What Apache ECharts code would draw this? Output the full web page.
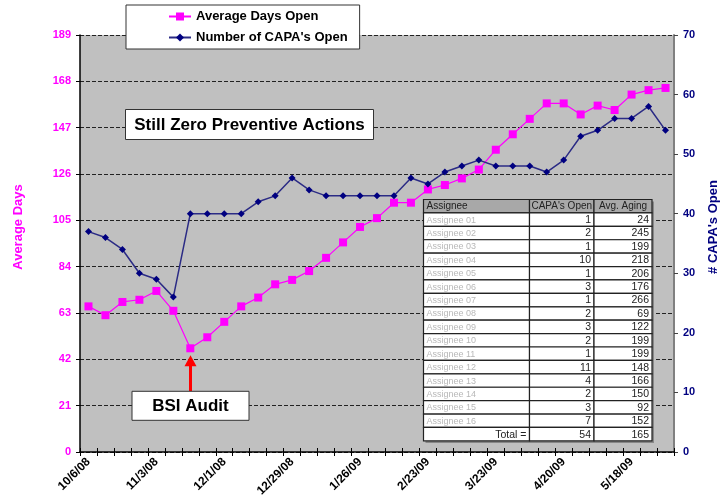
<!DOCTYPE html>
<html>
<head>
<meta charset="utf-8">
<script src="https://cdn.jsdelivr.net/npm/echarts@6/dist/echarts.min.js"></script>
<style>
  html, body { margin: 0; padding: 0; background: #fff; }
  #chart { width: 727px; height: 502px; }
</style>
</head>
<body>
<div id="chart"></div>
<script>
// weekly dates, one label every 4 weeks
var weeks = ["10/6/08", "10/13/08", "10/20/08", "10/27/08", "11/3/08", "11/10/08", "11/17/08", "11/24/08",
  "12/1/08", "12/8/08", "12/15/08", "12/22/08", "12/29/08", "1/5/09", "1/12/09", "1/19/09",
  "1/26/09", "2/2/09", "2/9/09", "2/16/09", "2/23/09", "3/2/09", "3/9/09", "3/16/09",
  "3/23/09", "3/30/09", "4/6/09", "4/13/09", "4/20/09", "4/27/09", "5/4/09", "5/11/09",
  "5/18/09", "5/25/09", "6/1/09"];
var avgDays = [66, 62, 68, 69, 73, 64, 47, 52, 59, 66, 70, 76, 78, 82, 88, 95, 102, 106, 113, 113,
  119, 121, 124, 128, 137, 144, 151, 158, 158, 153, 157, 155, 162, 164, 165];
var capaOpen = [37, 36, 34, 30, 29, 26, 40, 40, 40, 40, 42, 43, 46, 44, 43, 43, 43, 43, 43, 46,
  45, 47, 48, 49, 48, 48, 48, 47, 49, 53, 54, 56, 56, 58, 54];
var auditIdx = 6;

// assignee table (names are blurred in the source)
var assignees = ["Assignee 01", "Assignee 02", "Assignee 03", "Assignee 04", "Assignee 05", "Assignee 06",
  "Assignee 07", "Assignee 08", "Assignee 09", "Assignee 10", "Assignee 11", "Assignee 12",
  "Assignee 13", "Assignee 14", "Assignee 15", "Assignee 16"];
var capaByAssignee = [1, 2, 1, 10, 1, 3, 1, 2, 3, 2, 1, 11, 4, 2, 3, 7];
var agingByAssignee = [24, 245, 199, 218, 206, 176, 266, 69, 122, 199, 199, 148, 166, 150, 92, 152];
var totalCapa = 54;
var totalAging = 165;

var chartDom = document.getElementById("chart");
var myChart = echarts.init(chartDom);
var font = "Arial, 'Liberation Sans', sans-serif";

var option = {
  animation: false,
  textStyle: { fontFamily: font },
  grid: {
    left: 80,
    right: 53,
    top: 35,
    bottom: 50,
    show: true,
    backgroundColor: "#c0c0c0",
    borderWidth: 0,
  },
  legend: {
    left: 126,
    top: 5,
    orient: "vertical",
    backgroundColor: "#fff",
    borderColor: "#333",
    borderWidth: 1,
    padding: [5, 12, 5, 42],
    itemWidth: 22,
    itemHeight: 10,
    itemGap: 8,
    textStyle: { fontSize: 13, fontWeight: "bold", color: "#000" },
    data: ["Average Days Open", "Number of CAPA's Open"],
  },
  xAxis: [
    {
      type: "category",
      data: weeks,
      boundaryGap: true,
      axisLine: { lineStyle: { color: "#000", width: 1.5 } },
      axisTick: { show: true, interval: 0, length: 4, lineStyle: { color: "#000" } },
      axisLabel: {
        interval: 3,
        rotate: 45,
        fontSize: 12,
        fontWeight: "bold",
        color: "#000",
        margin: 8,
      },
      splitLine: { show: false },
    },
    {
      type: "category",
      data: weeks,
      boundaryGap: true,
      position: "bottom",
      axisLine: { show: false },
      axisTick: { show: true, inside: true, interval: 0, length: 4, lineStyle: { color: "#000" } },
      axisLabel: { show: false },
      splitLine: { show: false },
    },
  ],
  yAxis: [
    {
      type: "value",
      min: 0,
      max: 189,
      interval: 21,
      axisLine: { show: true, lineStyle: { color: "#000", width: 1.5 } },
      axisTick: { show: true, length: 4, lineStyle: { color: "#000" } },
      axisLabel: { fontSize: 11, fontWeight: "bold", color: "#ff00ff", margin: 9 },
      splitLine: { show: true, lineStyle: { color: "#222", type: [4, 2], width: 1 } },
    },
    {
      type: "value",
      min: 0,
      max: 70,
      interval: 10,
      position: "right",
      axisLine: { show: true, lineStyle: { color: "#808080", width: 2 } },
      axisTick: { show: true, length: 4, lineStyle: { color: "#444" } },
      axisLabel: { fontSize: 11, fontWeight: "bold", color: "#000080", margin: 9 },
      splitLine: { show: false },
    },
  ],
  series: [
    {
      name: "Average Days Open",
      type: "line",
      yAxisIndex: 0,
      data: avgDays,
      symbol: "rect",
      symbolSize: 8,
      color: "#ff00ff",
      lineStyle: { color: "#ff00ff", width: 1.2 },
      itemStyle: { color: "#ff00ff" },
    },
    {
      name: "Number of CAPA's Open",
      type: "line",
      yAxisIndex: 1,
      data: capaOpen,
      symbol: "diamond",
      symbolSize: 7,
      color: "#000080",
      lineStyle: { color: "#2b2b85", width: 1.5 },
      itemStyle: { color: "#000080" },
    },
  ],
};
myChart.setOption(option);

// annotations and table
function txt(x, y, s, opts) {
  opts = opts || {};
  return {
    type: "text",
    x: x,
    y: y,
    rotation: opts.rotation || 0,
    z: 110,
    style: {
      text: s,
      fill: opts.color || "#000",
      fontSize: opts.size || 10,
      fontWeight: opts.weight || "normal",
      fontFamily: opts.family || font,
      align: opts.align || "left",
      verticalAlign: "middle",
      textAlign: opts.align || "left",
      textVerticalAlign: "middle",
      shadowBlur: opts.blur || 0,
      shadowColor: opts.blur ? "#aaa" : "transparent",
    },
  };
}

var g = [];
// axis names
g.push(txt(18, 227, "Average Days", { rotation: Math.PI / 2, align: "center", size: 13, weight: "bold", color: "#ff00ff" }));
g.push(txt(713, 227, "# CAPA's Open", { rotation: Math.PI / 2, align: "center", size: 13, weight: "bold", color: "#000080" }));

// "Still Zero" box
g.push({ type: "rect", z: 105, shape: { x: 125.5, y: 109.5, width: 248, height: 30 }, style: { fill: "#fff", stroke: "#333", lineWidth: 1 } });
g.push(txt(249.5, 125, "Still Zero Preventive Actions", { align: "center", size: 17, weight: "bold" }));

// BSI audit arrow + box anchored to the audit data point
var p = myChart.convertToPixel({ seriesIndex: 0 }, [auditIdx, avgDays[auditIdx]]);
var ax = Math.round(p[0]) + 0.5;
var tip = p[1] + 7;
g.push({ type: "rect", z: 105, shape: { x: ax - 1.5, y: tip + 8, width: 3, height: 28 }, style: { fill: "#ff0000" } });
g.push({ type: "polygon", z: 105, shape: { points: [[ax, tip], [ax - 6, tip + 11], [ax + 6, tip + 11]] }, style: { fill: "#ff0000" } });
g.push({ type: "rect", z: 105, shape: { x: ax - 58.5, y: tip + 36, width: 117, height: 29 }, style: { fill: "#fff", stroke: "#333", lineWidth: 1 } });
g.push(txt(ax, tip + 51, "BSI Audit", { align: "center", size: 17, weight: "bold" }));

// table
var tx = 423.5, ty = 199.5, rh = 13.41;
var colW = [106, 64.5, 58];
var cx = [tx, tx + colW[0], tx + colW[0] + colW[1], tx + colW[0] + colW[1] + colW[2]];
var tfont = "'Liberation Sans', Arial, sans-serif";
var nRows = assignees.length + 2;
g.push({ type: "rect", z: 100, shape: { x: tx + 2, y: ty + 2, width: cx[3] - tx, height: rh * nRows }, style: { fill: "#888" } });
for (var r = 0; r < nRows; r++) {
  var y0 = ty + r * rh;
  for (var c = 0; c < 3; c++) {
    g.push({
      type: "rect",
      z: 101,
      shape: { x: cx[c], y: y0, width: colW[c], height: rh },
      style: { fill: r === 0 ? "#a8a8a8" : "#fff", stroke: "#222", lineWidth: 1.2 },
    });
  }
  var ym = y0 + rh / 2 + 0.5;
  if (r === 0) {
    g.push(txt(cx[0] + 3, ym, "Assignee", { size: 10, color: "#222", family: tfont }));
    g.push(txt((cx[1] + cx[2]) / 2, ym, "CAPA's Open", { size: 10, color: "#222", align: "center", family: tfont }));
    g.push(txt((cx[2] + cx[3]) / 2, ym, "Avg. Aging", { size: 10, color: "#222", align: "center", family: tfont }));
  } else if (r <= assignees.length) {
    var i = r - 1;
    g.push(txt(cx[0] + 3, ym, assignees[i], { size: 9, color: "#b8b8b8", family: tfont, blur: 3 }));
    g.push(txt(cx[2] - 3, ym, String(capaByAssignee[i]), { size: 10.5, color: "#222", align: "right", family: tfont }));
    g.push(txt(cx[3] - 3, ym, String(agingByAssignee[i]), { size: 10.5, color: "#222", align: "right", family: tfont }));
  } else {
    g.push(txt(cx[1] - 3, ym, "Total =", { size: 10.5, color: "#222", align: "right", family: tfont }));
    g.push(txt(cx[2] - 3, ym, String(totalCapa), { size: 10.5, color: "#222", align: "right", family: tfont }));
    g.push(txt(cx[3] - 3, ym, String(totalAging), { size: 10.5, color: "#222", align: "right", family: tfont }));
  }
}

myChart.setOption({ graphic: g });
</script>
</body>
</html>
